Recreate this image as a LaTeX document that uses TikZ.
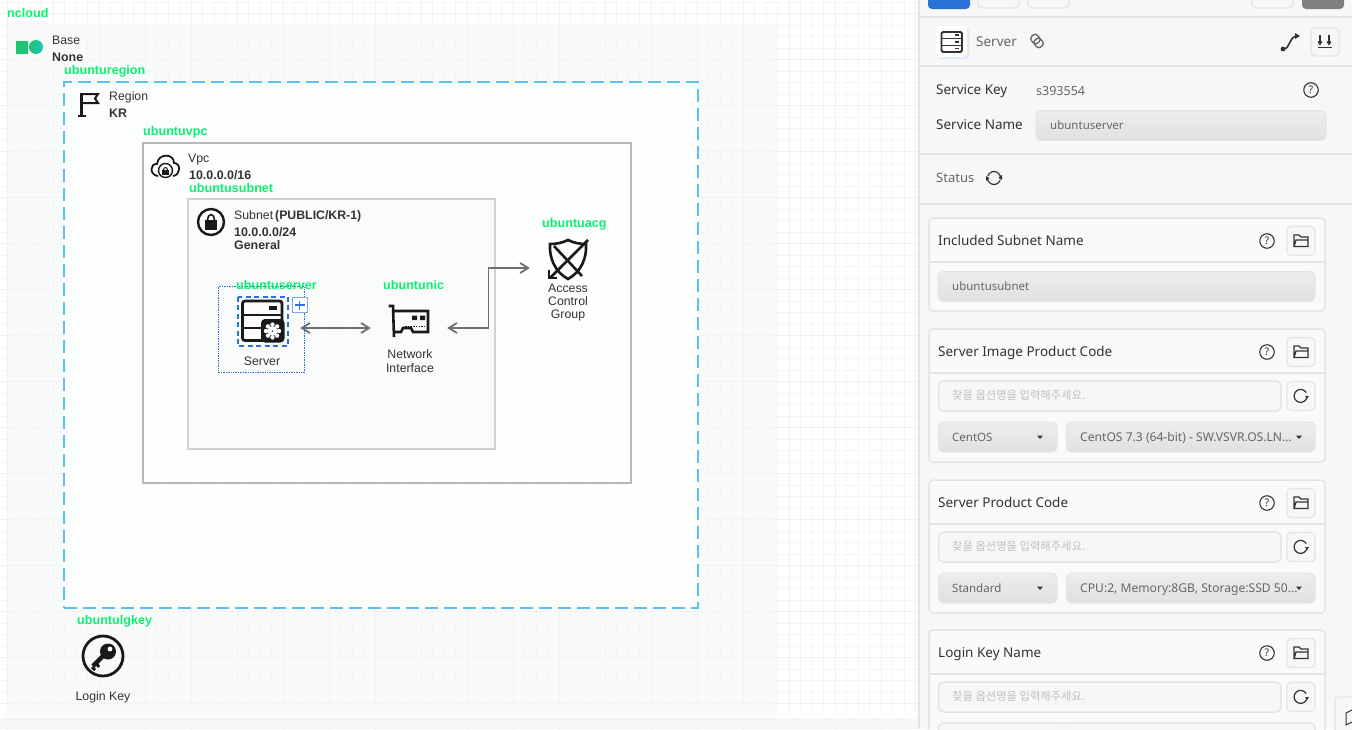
\documentclass[tikz,border=0pt]{standalone}
\usepackage{fontspec}
\setmainfont{Liberation Sans}
\newfontfamily\panelfont{Noto Sans}
\newfontfamily\krfont{Noto Sans CJK KR}
\usetikzlibrary{arrows.meta,calc}
\definecolor{canvastint}{HTML}{F4F8F6}
\definecolor{gridcol}{HTML}{F5F5F5}
\definecolor{gridmajor}{HTML}{F0F0F0}
\definecolor{panelbg}{HTML}{F7F7F7}
\definecolor{panelline}{HTML}{E4E4E4}
\definecolor{labelgreen}{HTML}{0CF070}
\definecolor{regionblue}{HTML}{5CC1EE}
\definecolor{selblue}{HTML}{2A72D8}
\definecolor{darktext}{HTML}{333333}
\definecolor{softtext}{HTML}{666666}
\definecolor{linkgrey}{HTML}{707070}
\definecolor{basegreen}{HTML}{1FC46A}
\definecolor{baseteal}{HTML}{20C4BE}
\tikzset{
    line/.style={anchor=base west, yshift=-4.4pt, inner sep=0pt},
    tag/.style={line, text=labelgreen, font=\fontsize{12.6}{12}\selectfont\bfseries},
    info/.style={line, text=darktext, font=\fontsize{12.3}{12}\selectfont},
    infobold/.style={info, font=\fontsize{12.4}{12}\selectfont\bfseries},
    caption/.style={inner sep=0pt, align=center, text=darktext, font=\fontsize{12.3}{14}\selectfont},
    iconslot/.style={minimum width=76pt, minimum height=40pt, inner sep=0pt},
    link/.style={draw=linkgrey, line width=1.8pt, {Straight Barb[length=8pt,width=10pt]}-{Straight Barb[length=8pt,width=10pt]}},
    icon/.style={line width=2.2pt, black!90},
    ptitle/.style={line, text=darktext, font=\panelfont\fontsize{13.5}{13}\selectfont},
    ptext/.style={line, text=softtext, font=\panelfont\fontsize{11.5}{12}\selectfont},
    pvalue/.style={ptext, font=\panelfont\fontsize{12.1}{12}\selectfont},
    phint/.style={anchor=west, inner sep=0pt, text=black!25, font=\krfont\fontsize{11.3}{12}\selectfont},
    pcard/.style={draw=panelline, line width=1.5pt, rounded corners=4pt, fill=panelbg!60!white},
    pfield/.style={draw=panelline, line width=1pt, rounded corners=5pt, top color=black!7, bottom color=black!12},
    pinput/.style={draw=panelline, line width=1.5pt, rounded corners=5pt, fill=panelbg},
    pbtn/.style={draw=panelline, line width=1.2pt, rounded corners=4pt, fill=panelbg},
    pglyph/.style={draw=darktext, line width=1.1pt},
}
\newcommand{\helpmark}[1]{%
    \node[circle, pglyph, minimum size=14.5pt, inner sep=0pt, font=\panelfont\fontsize{10.5}{10}\selectfont, text=darktext] at (#1) {?};}
\newcommand{\folderbtn}[1]{%
    \begin{scope}[shift={(#1)}]
        \draw[pbtn] (-14,-14.5) rectangle (14,14.5);
        \draw[pglyph, line width=1.3pt] (-7,5.5) -- (-7,-6) -- (-2,-6) -- (0,-4) -- (7,-4) -- (7,-1) -- (-5,-1) -- (-7,5.5) -- (7,5.5) -- (7,-1);
    \end{scope}}
\newcommand{\reloadbtn}[1]{%
    \begin{scope}[shift={(#1)}]
        \draw[pbtn] (-14,-14.5) rectangle (14,14.5);
        \draw[pglyph, line width=1.2pt] (6,1) arc[start angle=10, end angle=330, radius=6.5];
        \fill[darktext] (4,0) -- (8,0) -- (6,3) -- cycle;
    \end{scope}}
\newcommand{\caret}[1]{\fill[darktext] (#1) ++(-3,-1.5) -- ++(6,0) -- ++(-3,3.5) -- cycle;}
\begin{document}
\begin{tikzpicture}[x=1pt, y=-1pt]
    \useasboundingbox (0,0) rectangle (1352,729);
    \clip (0,0) rectangle (1352,729);

    % canvas
    \fill[white] (0,0) rectangle (920,729);
    \begin{scope}[shift={(7.3,2.3)}]
        \draw[gridcol, line width=1pt] (-46,-46) grid[step=11.5pt] (920,736);
    \end{scope}
    \begin{scope}[shift={(7.3,13.8)}]
        \draw[gridmajor, line width=1.2pt] (-46,-46) grid[step=46pt] (920,736);
    \end{scope}
    \fill[canvastint, fill opacity=.55] (6,23) rectangle (778,717);
    \fill[black!4] (0,718) rectangle (920,729);
    \begin{scope}[shift={(7.3,2.3)}]
        \draw[white, line width=1pt, opacity=.5] (-46,706) grid[step=11.5pt] (920,736);
    \end{scope}

    % containers
    \node[tag] (ncloudtag) at (7,13) {ncloud};
    \shade[left color=basegreen, right color=basegreen!80!baseteal] (16,41) rectangle (28,53.5);
    \shade[left color=basegreen, right color=baseteal] (36,47) circle (7);
    \node[info] (basetext) at (52,40) {Base};
    \node[infobold] (basename) at (52,57) {None};

    \node[tag] (regiontag) at (64,70) {ubunturegion};
    \node[draw=regionblue, line width=2.2pt, dash pattern=on 13pt off 6pt, fill=white, fill opacity=.7, draw opacity=1,
        minimum width=634pt, minimum height=526pt, inner sep=0pt] (regionbox) at (381,345) {};
    \draw[icon] (81.5,93) -- (81.5,116) (78,116) -- (86,116);
    \draw[icon, line width=2pt] (81.5,94) -- (98,94) -- (95,98.5) -- (98,103) -- (81.5,103);
    \node[info] (regiontext) at (109,96) {Region};
    \node[infobold] (regionname) at (109,113) {KR};

    \node[tag] (vpctag) at (143,131) {ubuntuvpc};
    \node[draw=black!28, line width=2pt, fill=white, fill opacity=.5, draw opacity=1,
        minimum width=488pt, minimum height=340pt, inner sep=0pt] (vpcbox) at (387,313) {};
    \draw[icon, line width=1.8pt] (158,176) .. controls (149,175) and (150,163) .. (157,164) .. controls (158,153) and (174,153) .. (174,163) .. controls (181,163) and (181,175) .. (173,176);
    \draw[black!90, line width=1.4pt, fill=white] (165.5,170.5) circle (7);
    \fill[black!90] (162,170) rectangle (169,175);
    \draw[black!90, line width=1pt] (163.5,170) arc[start angle=180, end angle=360, x radius=2, y radius=2.5];
    \node[info] (vpctext) at (188,158) {Vpc};
    \node[infobold] (vpccidr) at (189,175) {10.0.0.0/16};

    \node[tag] (subnettag) at (189,188) {ubuntusubnet};
    \node[draw=black!18, line width=2pt, fill=black!2, fill opacity=.7, draw opacity=1,
        minimum width=307pt, minimum height=250pt, inner sep=0pt] (subnetbox) at (341.5,324) {};
    \draw[icon, line width=2.4pt] (211,222) circle (13);
    \fill[black!90] (205,220) rectangle (217,229.5);
    \draw[black!90, line width=1.6pt] (207.5,220) arc[start angle=180, end angle=360, x radius=3.5, y radius=5.5];
    \node[info] (subnettext) at (234,215) {Subnet\hspace{2pt}\textbf{(PUBLIC/KR-1)}};
    \node[infobold] (subnetcidr) at (234,232) {10.0.0.0/24};
    \node[infobold] (subnetkind) at (234,245) {General};

    % services
    \node[iconslot] (servernode) at (262,328) {};
    \node[iconslot] (nicnode) at (409,328) {};
    \node[iconslot] (acgnode) at (568,268) {};
    \draw[link] (servernode) -- (nicnode);
    \draw[link] (nicnode) -| ($(nicnode.east)!.5!(acgnode.west)$) |- (acgnode);

    % server, selected
    \draw[selblue, line width=.7pt, densely dotted] (218.5,286.5) rectangle (304.5,372.5);
    \draw[selblue, line width=2pt, dash pattern=on 5pt off 3.5pt] (237.5,296.5) rectangle (288,346);
    \draw[icon, rounded corners=2.5pt, line width=2.8pt] (242.5,301) rectangle (282,340.5);
    \draw[icon, line width=2.6pt] (242.5,315) -- (282,315) (242.5,328) -- (282,328);
    \fill[black!90] (269,306) rectangle (277,310);
    \fill[black!90, rounded corners=4pt] (261,319) rectangle (284.5,342.5);
    \foreach \ang in {0,45,...,315}
        \fill[white] (272.5,331) ++(\ang:6.5) circle (2.2);
    \fill[white] (272.5,331) circle (5);
    \fill[black!60] (272.5,331) circle (1);
    \draw[selblue!60, line width=1pt, fill=white] (292.5,297.5) rectangle (307,312.5);
    \draw[selblue, line width=1.3pt] (295,305) -- (304.5,305) (299.75,300.5) -- (299.75,309.5);
    \node[tag] (servertag) at (236,285) {ubuntuserver};
    \node[caption] (servertext) at (262,361) {Server};

    % nic
    \draw[icon, line width=2.6pt] (388.5,306) -- (393,306) -- (394,337);
    \draw[icon, line width=2.6pt] (394,311) -- (428,311) -- (428,332) -- (413,332) -- (411,328) -- (403,328) -- (401,332) -- (394,332);
    \fill[black!90] (412,315.5) rectangle (417,320) (420,315.5) rectangle (425,320);
    \draw[black!90, line width=1.5pt, dash pattern=on 1.5pt off 1.2pt] (405,326.5) -- (426,326.5);
    \node[tag] (nictag) at (383,285) {ubuntunic};
    \node[caption] (nictext) at (410,361) {Network\\Interface};

    % acg
    \draw[icon, line width=2.6pt] (568,240) .. controls (562,243) and (556,244) .. (550,244) .. controls (549,258) and (555,272) .. (568,279) .. controls (581,272) and (587,258) .. (586,244) .. controls (580,244) and (574,243) .. (568,240) -- cycle;
    \draw[icon, line width=2.6pt] (554,246) -- (582,276);
    \draw[icon, line width=2.6pt] (588,240) -- (550,278);
    \draw[icon, line width=2pt] (549,270) -- (549,278) -- (557,278);
    \node[tag] (acgtag) at (542,223) {ubuntuacg};
    \node[caption, font=\fontsize{12.3}{13}\selectfont] (acgtext) at (568,302.3) {Access\\Control\\Group};

    % login key
    \node[tag] (lgkeytag) at (77,620) {ubuntulgkey};
    \draw[icon, line width=2.8pt] (103,656) circle (20);
    \fill[black!90] (108,651.5) circle (8);
    \draw[black!90, line width=4.5pt] (104,655) -- (93,666);
    \draw[black!90, line width=3pt] (96,663) -- (99,667) (92,667) -- (95,670);
    \fill[white] (110,649) circle (2.4);
    \node[caption] (lgkeytext) at (103,697.5) {Login Key};

    % side panel
    \fill[panelbg] (919,0) rectangle (1352,729);
    \draw[panelline, line width=1.2pt] (919,0) -- (919,729);
    \foreach \liney/\linew in {17/1.2, 66/1.5, 154/1.5, 204/1.2}
        \draw[panelline, line width=\linew pt] (919,\liney) -- (1352,\liney);
    \fill[selblue, rounded corners=4pt] (928,-6) rectangle (970,9);
    \foreach \bx in {978,1028,1252}
        \draw[pbtn] (\bx,-6) rectangle (\bx+41,8);
    \fill[black!50, rounded corners=4pt] (1302,-6) rectangle (1344,9);

    \fill[selblue!15, rounded corners=3pt] (938,28) rectangle (969,59);
    \fill[white, rounded corners=3pt] (936,26) rectangle (967,57);
    \draw[darktext, line width=1.8pt, rounded corners=1.5pt] (941.5,32) rectangle (962,52);
    \draw[darktext, line width=1.6pt] (941.5,38.5) -- (962,38.5) (941.5,45.5) -- (962,45.5);
    \foreach \sy in {35,42,48.5}
        \fill[darktext] (955,\sy-.8) rectangle (959,\sy+.8);
    \node[ptext, font=\panelfont\fontsize{13.5}{13}\selectfont] (sidetitle) at (976,42) {Server};
    \draw[softtext, line width=1.3pt, rounded corners=3pt, rotate around={-50:(1037,41)}] (1030,37) rectangle (1039,45) (1035,37) rectangle (1044,45);
    \draw[darktext, line width=1.6pt] (1283,49) .. controls (1291,49) and (1288,37) .. (1297,36);
    \fill[darktext] (1283,49) circle (2.4);
    \fill[darktext] (1295,33) -- (1300,36) -- (1295,39) -- cycle;
    \draw[pbtn] (1311,28) rectangle (1339,56);
    \draw[pglyph] (1320,35) -- (1320,44) (1329,35) -- (1329,44) (1318,47.5) -- (1332,47.5);
    \draw[pglyph] (1318,41.5) -- (1320,44.5) -- (1322,41.5) (1327,41.5) -- (1329,44.5) -- (1331,41.5);

    \node[ptitle] (keylabel) at (936,90) {Service Key};
    \node[ptext, font=\panelfont\fontsize{12.5}{12}\selectfont] (keyvalue) at (1036,91) {s393554};
    \helpmark{1311,90}
    \node[ptitle] (namelabel) at (936,125) {Service Name};
    \draw[pfield] (1036,110.5) rectangle (1326,140.5);
    \node[ptext] (namevalue) at (1050,125) {ubuntuserver};
    \node[ptitle, text=softtext, font=\panelfont\fontsize{13}{13}\selectfont] (statuslabel) at (936,178) {Status};
    \draw[pglyph, line width=1.2pt] (994,178) circle (6.5);
    \fill[panelbg] (986,176) rectangle (989,178) (999,178) rectangle (1002,180);
    \fill[darktext] (998.5,178) -- (1002,175) -- (1002,180) -- cycle;
    \fill[darktext] (989.5,178) -- (986,181) -- (986,176) -- cycle;

    % cards
    \draw[pcard] (929,218) rectangle (1325,311);
    \draw[panelline, line width=1.2pt] (929,262) -- (1325,262);
    \node[ptitle] (subnetcard) at (938,241) {Included Subnet Name};
    \helpmark{1267,241}
    \folderbtn{1301,241}
    \draw[pfield] (938,271.5) rectangle (1315,301.5);
    \node[ptext] (subnetvalue) at (952,286) {ubuntusubnet};

    \foreach \cardy/\cardtitle/\seltop/\selrest/\cardid in {
        329/{Server Image Product Code}/{CentOS}/{CentOS 7.3 (64-bit) - SW.VSVR.OS.LN...}/imgcard,
        480/{Server Product Code}/{Standard}/{CPU:2, Memory:8GB, Storage:SSD 50...}/prodcard,
        630/{Login Key Name}/{}/{}/keycard}{
        \begin{scope}[shift={(0,\cardy)}]
            \draw[pcard] (929,0) rectangle (1325,133);
            \draw[panelline, line width=1.2pt] (929,44) -- (1325,44);
            \node[ptitle] (\cardid title) at (938,23) {\cardtitle};
            \helpmark{1267,23}
            \folderbtn{1301,23}
            \draw[pinput] (938.5,52) rectangle (1281,82);
            \node[phint] (\cardid hint) at (952,66.5) {찾을 옵션명을 입력해주세요.};
            \reloadbtn{1301,67}
            \draw[pfield] (938.5,93) rectangle (1057,123);
            \draw[pfield] (1066.5,93) rectangle (1315,123);
            \node[ptext] (\cardid sel) at (952,108) {\seltop};
            \node[pvalue] (\cardid val) at (1080,108) {\selrest};
            \caret{1040,108}
            \caret{1299,108}
        \end{scope}
    }
    \draw[pinput] (938.5,723) rectangle (1315,753);
    % corner tab
    \draw[panelline, line width=1.2pt, fill=panelbg, rounded corners=3pt] (1335,697) rectangle (1360,735);
    \draw[darktext, line width=1pt] (1352,710) -- (1346,713) -- (1346,725) -- (1352,722);
\end{tikzpicture}
\end{document}
